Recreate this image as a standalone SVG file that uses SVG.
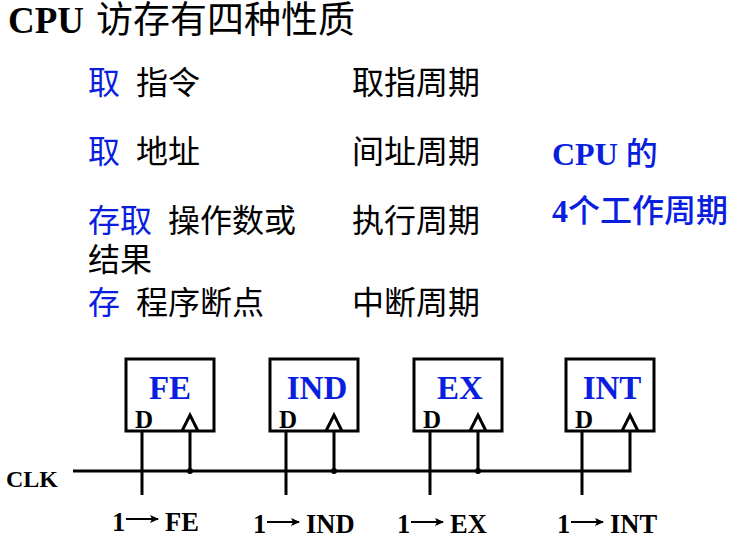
<svg xmlns="http://www.w3.org/2000/svg" width="736" height="543" viewBox="0 0 736 543">
<style>
text{font-family:"Liberation Serif","Noto Sans CJK SC",serif;fill:#000}
.z{font-size:32px;font-family:"Noto Sans CJK SC",sans-serif;font-weight:400}
.b{fill:#0a1ee0}
.l{font-weight:700;font-size:26.5px}
.n{font-weight:700;font-size:33px;fill:#0a1ee0;text-anchor:middle}
.d{font-weight:700;font-size:25px}
.box{fill:#fff;stroke:#000;stroke-width:3}
.w{fill:none;stroke:#000;stroke-width:3}
.thin{fill:none;stroke:#000;stroke-width:2}
</style>
<defs><marker id="a" markerWidth="9" markerHeight="8" refX="8" refY="4" orient="auto" markerUnits="userSpaceOnUse"><path d="M0 0L9 4L0 8L2 4Z" fill="#000"/></marker></defs>
<rect width="736" height="543" fill="#fff"/>
<g id="title"><text x="8" y="33" font-size="37" font-weight="700">CPU</text><text x="96" y="33" style="font-size:37px;font-family:'Noto Sans CJK SC',sans-serif">访存有四种性质</text></g>
<g id="rows">
<text class="z b" x="88" y="94">取</text><text class="z" x="136" y="94">指令</text><text class="z" x="352" y="94">取指周期</text>
<text class="z b" x="88" y="163">取</text><text class="z" x="136" y="163">地址</text><text class="z" x="352" y="163">间址周期</text>
<text class="z b" x="88" y="232">存取</text><text class="z" x="168" y="232">操作数或</text><text class="z" x="352" y="232">执行周期</text>
<text class="z" x="88" y="271">结果</text>
<text class="z b" x="88" y="314">存</text><text class="z" x="136" y="314">程序断点</text><text class="z" x="352" y="314">中断周期</text>
</g>
<g id="side"><text x="552" y="165" font-size="32" font-weight="700" class="b">CPU <tspan style="font-family:'Noto Sans CJK SC',sans-serif;font-weight:500">的</tspan></text><text x="552" y="222" font-size="32" font-weight="700" class="b">4<tspan style="font-family:'Noto Sans CJK SC',sans-serif;font-weight:500">个工作周期</tspan></text></g>
<g id="FE"><rect class="box" x="126" y="359" width="88" height="72"/><text class="n" x="170" y="399">FE</text><text class="d" x="135" y="428">D</text><path class="w" d="M182 431L190 415L198 431"/></g>
<g id="IND"><rect class="box" x="270" y="359" width="88" height="72"/><text class="n" x="317" y="399">IND</text><text class="d" x="279" y="428">D</text><path class="w" d="M326 431L334 415L342 431"/></g>
<g id="EX"><rect class="box" x="414" y="359" width="88" height="72"/><text class="n" x="460" y="399">EX</text><text class="d" x="423" y="428">D</text><path class="w" d="M470 431L478 415L486 431"/></g>
<g id="INT"><rect class="box" x="566" y="359" width="88" height="72"/><text class="n" x="612" y="399">INT</text><text class="d" x="575" y="428">D</text><path class="w" d="M622 431L630 415L638 431"/></g>
<g id="connectors">
<path class="w" d="M73 471H630V431M142 431V495M286 431V495M430 431V495M582 431V495M190 431V471M334 431V471M478 431V471"/>
<circle cx="190" cy="471" r="3"/><circle cx="334" cy="471" r="3"/><circle cx="478" cy="471" r="3"/>
<path class="thin" marker-end="url(#a)" d="M126 519H158"/><path class="thin" marker-end="url(#a)" d="M267 522H299"/><path class="thin" marker-end="url(#a)" d="M411 522H443"/><path class="thin" marker-end="url(#a)" d="M571 522H603"/>
</g>
<g id="labels">
<text class="l" x="6" y="487" style="font-size:24px">CLK</text>
<text class="l" x="112" y="531">1</text><text class="l" x="165" y="531">FE</text>
<text class="l" x="253" y="533">1</text><text class="l" x="306" y="533">IND</text>
<text class="l" x="397" y="533">1</text><text class="l" x="450" y="533">EX</text>
<text class="l" x="557" y="533">1</text><text class="l" x="610" y="533">INT</text>
</g>
</svg>
